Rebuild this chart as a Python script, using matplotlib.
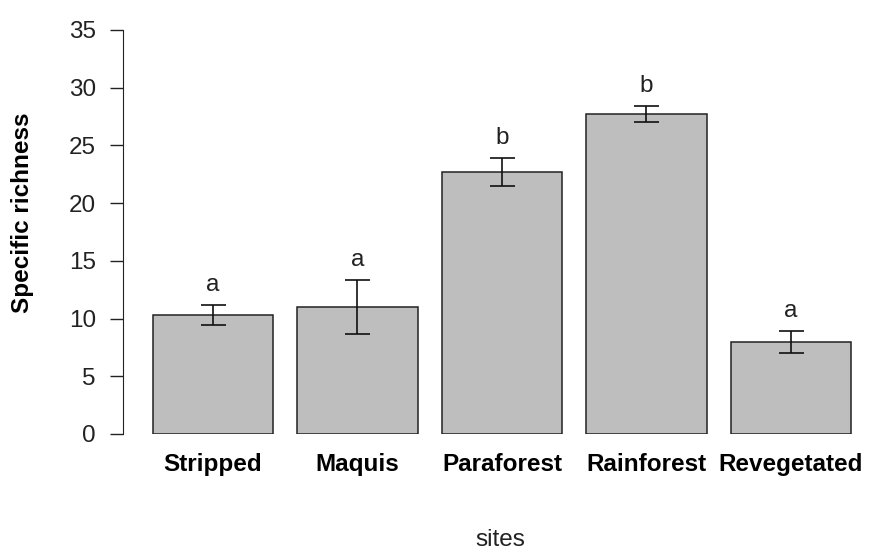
import matplotlib
matplotlib.use("Agg")
import matplotlib.pyplot as plt
import numpy as np

plt.rcParams['font.family'] = ['Liberation Sans', 'DejaVu Sans']

sites = ["Stripped", "Maquis", "Paraforest", "Rainforest", "Revegetated"]
richness = [10.3, 11.0, 22.7, 27.7, 7.95]
se = [0.9, 2.3, 1.2, 0.7, 0.95]
groups = ["a", "a", "b", "b", "a"]

FS = 17.5

fig = plt.figure(figsize=(8.8, 5.52), dpi=100)
ax = fig.add_axes([123/880, 118/552, 747/880, 404/552])

# R barplot style: width 1, space 0.2
x = 0.7 + 1.2*np.arange(len(sites))
ax.bar(x, richness, width=1.0, color='#bebebe', edgecolor='#222222', linewidth=1.1)
ax.errorbar(x, richness, yerr=se, fmt='none', ecolor='#111111',
            elinewidth=1.2, capsize=9, capthick=1.2)

for xi, m, s, g in zip(x, richness, se, groups):
    ax.text(xi, m + s + 1.75, g, ha='center', va='center', fontsize=FS, color='#222222')

ax.set_xlim(-0.0475, 6.157)
ax.set_ylim(0, 35)
ax.set_yticks(range(0, 36, 5))
ax.set_xticks(x)
ax.set_xticklabels(sites, fontweight='bold', fontsize=FS)
ax.tick_params(axis='x', length=0, pad=14)
ax.tick_params(axis='y', length=9.5, width=1, labelsize=FS, pad=10, colors='#222222')

for side in ['top', 'right', 'bottom']:
    ax.spines[side].set_visible(False)
ax.spines['left'].set_bounds(0, 35)
ax.spines['left'].set_color('#222222')

fig.text(22/880, 1 - 213/552, "Specific richness", rotation=90, ha='center', va='center',
         fontweight='bold', fontsize=FS)
fig.text(500/880, 1 - 540/552, "sites", ha='center', va='center', fontsize=FS, color='#222222')

fig.savefig("out.png", dpi=100)
